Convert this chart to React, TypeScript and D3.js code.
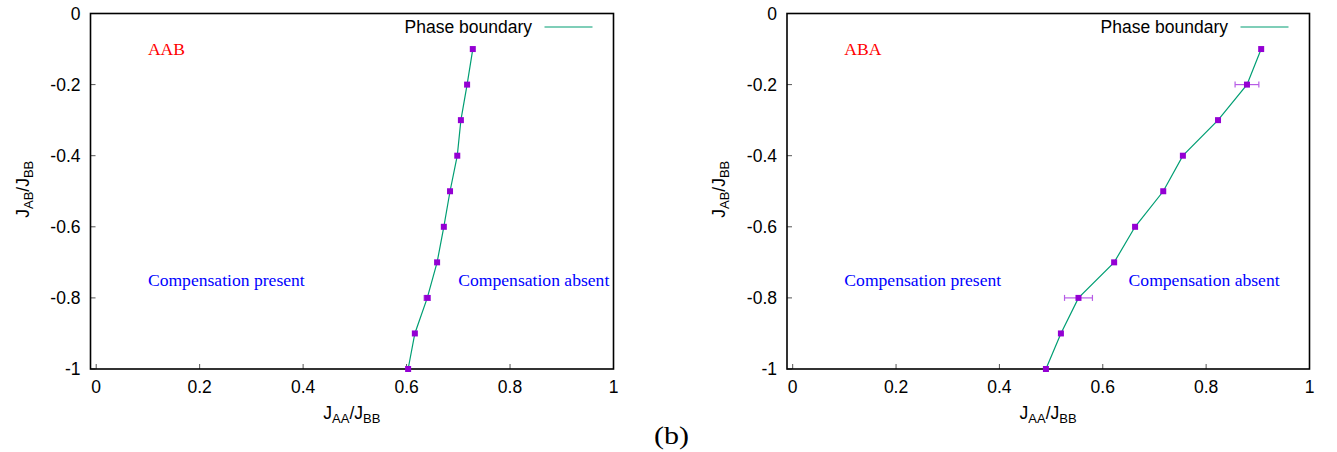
import React from "react";
import * as d3 from "d3";

const yValues = [-0.1, -0.2, -0.3, -0.4, -0.5, -0.6, -0.7, -0.8, -0.9, -1.0];
const aabX = [0.728, 0.717, 0.705, 0.698, 0.684, 0.672, 0.659, 0.640, 0.616, 0.603];
const aabErr = [0, 0, 0, 0, 0, 0, 0, 0.006, 0, 0];
const abaX = [0.9065, 0.879, 0.823, 0.755, 0.717, 0.6625, 0.622, 0.553, 0.519, 0.490];
const abaErr = [0, 0.023, 0, 0, 0, 0, 0, 0.027, 0, 0];
const xTicks = [0, 0.2, 0.4, 0.6, 0.8, 1];
const yTicks = [0, -0.2, -0.4, -0.6, -0.8, -1];

const SANS = "'Liberation Sans', Arial, Helvetica, sans-serif";
const SERIF = "'Liberation Serif', 'Times New Roman', serif";
const FS = 17.5;
const SUB = 13;
const SFS = 17.6;

const fmt = (t: number) => String(t);

type PanelProps = {
  left: number;
  right: number;
  label: string;
  xs: number[];
  errs: number[];
  presentX: number;
  absentX: number;
};

function Panel({ left, right, label, xs, errs, presentX, absentX }: PanelProps) {
  const top = 13.5;
  const bottom = 369;
  const x = d3.scaleLinear().domain([-0.011, 1]).range([left, right]);
  const y = d3.scaleLinear().domain([-1, 0]).range([bottom, top]);
  const pts = yValues.map((yv, i) => ({ x: xs[i], y: yv, e: errs[i] }));
  const line = d3
    .line<{ x: number; y: number }>()
    .x((d) => x(d.x))
    .y((d) => y(d.y));
  const legendY = 27;
  return (
    <g>
      {xTicks.map((t) => (
        <g key={"xt" + t}>
          <line x1={x(t)} x2={x(t)} y1={bottom} y2={bottom - 5} stroke="#555" strokeWidth={1} />
          <text x={x(t)} y={bottom + 23.5} textAnchor="middle" fontFamily={SANS} fontSize={FS} fill="#000">
            {fmt(t)}
          </text>
        </g>
      ))}
      {yTicks.map((t) => (
        <g key={"yt" + t}>
          <line x1={left} x2={left + 5} y1={y(t)} y2={y(t)} stroke="#555" strokeWidth={1} />
          <text x={left - 10} y={y(t) + 6.3} textAnchor="end" fontFamily={SANS} fontSize={FS} fill="#000">
            {fmt(t)}
          </text>
        </g>
      ))}
      <rect x={left} y={top} width={right - left} height={bottom - top} fill="none" stroke="#000" strokeWidth={1.6} />
      <text
        transform={`translate(${left - 62},${(top + bottom) / 2 - 2}) rotate(-90)`}
        textAnchor="middle"
        fontFamily={SANS}
        fontSize={FS}
        fill="#000"
      >
        J<tspan fontSize={SUB} dy={4}>AB</tspan>
        <tspan dy={-4}>/J</tspan>
        <tspan fontSize={SUB} dy={4}>BB</tspan>
      </text>
      <text x={x(0.5) - 3} y={bottom + 50} textAnchor="middle" fontFamily={SANS} fontSize={FS} fill="#000">
        J<tspan fontSize={SUB} dy={4}>AA</tspan>
        <tspan dy={-4}>/J</tspan>
        <tspan fontSize={SUB} dy={4}>BB</tspan>
      </text>
      <text x={x(0.1)} y={y(-0.1) + 6} fontFamily={SERIF} fontSize={SFS} fill="#ff0000">
        {label}
      </text>
      <text x={x(presentX)} y={y(-0.75) + 6} fontFamily={SERIF} fontSize={SFS} fill="#0000ff">
        Compensation present
      </text>
      <text x={x(absentX)} y={y(-0.75) + 6} fontFamily={SERIF} fontSize={SFS} fill="#0000ff">
        Compensation absent
      </text>
      <text x={right - 81.5} y={legendY + 6} textAnchor="end" fontFamily={SANS} fontSize={FS} fill="#000">
        Phase boundary
      </text>
      <line x1={right - 69} x2={right - 21} y1={legendY} y2={legendY} stroke="#009e73" strokeWidth={1.2} />
      <path d={line(pts) || ""} fill="none" stroke="#009e73" strokeWidth={1.2} />
      {pts
        .filter((p) => p.e > 0)
        .map((p, i) => (
          <g key={"e" + i} stroke="#b75ce6" strokeWidth={1.2}>
            <line x1={x(p.x - p.e)} x2={x(p.x + p.e)} y1={y(p.y)} y2={y(p.y)} />
            <line x1={x(p.x - p.e)} x2={x(p.x - p.e)} y1={y(p.y) - 3} y2={y(p.y) + 3} />
            <line x1={x(p.x + p.e)} x2={x(p.x + p.e)} y1={y(p.y) - 3} y2={y(p.y) + 3} />
          </g>
        ))}
      {pts.map((p, i) => (
        <rect key={"p" + i} x={x(p.x) - 3} y={y(p.y) - 3} width={6} height={6} fill="#9400d3" />
      ))}
    </g>
  );
}

export default function App() {
  return (
    <svg
      width={1337}
      height={452}
      style={{ position: "absolute", left: 0, top: 0, background: "#fff" }}
    >
      <rect x={0} y={0} width={1337} height={452} fill="#fff" />
      <Panel left={90.5} right={613.5} label="AAB" xs={aabX} errs={aabErr} presentX={0.1} absentX={0.7} />
      <Panel left={787} right={1309.5} label="ABA" xs={abaX} errs={abaErr} presentX={0.1} absentX={0.65} />
      <text
        x={654}
        y={444}
        textLength={35}
        lengthAdjust="spacingAndGlyphs"
        fontFamily={SERIF}
        fontSize={25}
        fill="#000"
      >
        (b)
      </text>
    </svg>
  );
}
